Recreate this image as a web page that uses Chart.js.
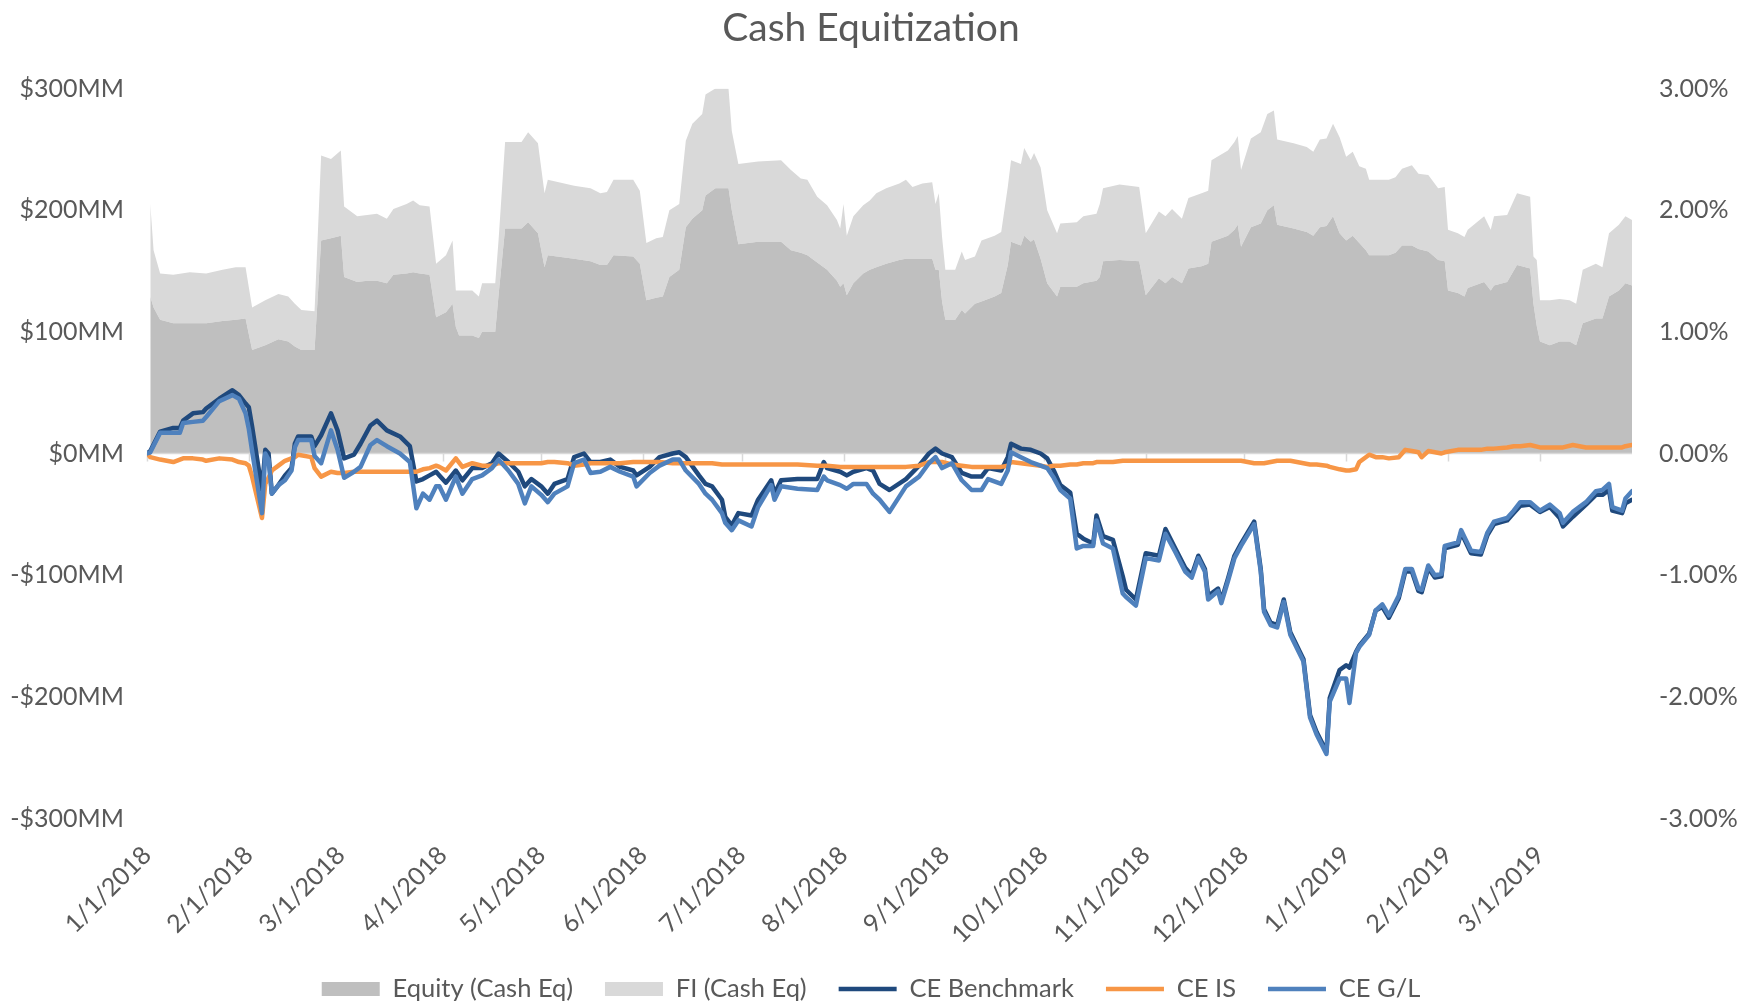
<!DOCTYPE html>
<html>
<head>
<meta charset="utf-8">
<title>Cash Equitization</title>
<script src="https://cdn.jsdelivr.net/npm/chart.js@4.4.1/dist/chart.umd.min.js"></script>
<style>
  html, body { margin: 0; padding: 0; background: #fff; }
</style>
</head>
<body>
<canvas id="cashChart" width="1742" height="1003"></canvas>
<script>
"use strict";

// days counted from 1/1/2018
const areaDays = [
  1, 2, 4, 8, 13, 18, 23, 27, 30, 32,
  36, 40, 43, 45, 47, 51, 53, 56, 59, 60,
  64, 67, 70, 73, 75, 79, 81, 83, 86, 88,
  91, 93, 94, 95, 99, 101, 102, 106, 107, 109,
  114, 116, 119, 121, 122, 130, 135, 138, 140, 142,
  148, 150, 152, 155, 157, 159, 162, 164, 166, 169,
  170, 173, 177, 178, 180, 186, 193, 196, 199, 201,
  204, 207, 210, 211, 212, 213, 215, 218, 220, 222,
  225, 229, 231, 233, 236, 239, 240, 241, 242, 243,
  246, 248, 249, 252, 254, 258, 260, 262, 263, 266,
  267, 269, 270, 272, 274, 277, 278, 283, 285, 289,
  290, 291, 296, 302, 304, 308, 310, 312, 315, 317,
  321, 323, 324, 329, 331, 332, 333, 336, 339, 341,
  343, 344, 349, 353, 355, 357, 359, 361, 363, 365,
  367, 369, 371, 372, 378, 380, 382, 385, 387, 390,
  393, 395, 396, 399, 401, 402, 407, 409, 410, 414,
  417, 421, 422, 423, 424, 427, 430, 433, 435, 437,
  441, 443, 445, 448, 450, 452
];

// $MM, stacked: equity at the bottom, FI on top of it
const equityMM = [
  129, 120, 110, 107, 107, 107, 109, 110, 111, 85,
  89, 94, 92, 88, 85, 85, 175, 177, 179, 145,
  141, 142, 142, 140, 147, 148, 149, 148, 147, 112,
  116, 123, 104, 97, 97, 95, 100, 100, 130, 185,
  185, 190, 181, 153, 163, 160, 158, 155, 155, 163,
  162, 156, 126, 128, 129, 145, 151, 186, 193, 200,
  212, 218, 218, 200, 172, 174, 174, 167, 165, 163,
  157, 151, 142, 137, 140, 130, 140, 148, 151, 153,
  156, 159, 160, 160, 160, 160, 151, 151, 125, 110,
  110, 118, 115, 123, 125, 129, 132, 155, 174, 171,
  179, 174, 176, 160, 140, 129, 137, 137, 140, 142,
  145, 158, 159, 158, 130, 144, 140, 145, 140, 152,
  154, 156, 174, 179, 184, 188, 170, 186, 189, 200,
  204, 188, 185, 182, 179, 186, 187, 195, 181, 175,
  179, 173, 167, 163, 163, 165, 171, 171, 168, 166,
  159, 158, 134, 132, 129, 136, 141, 134, 138, 141,
  155, 152, 123, 105, 92, 89, 92, 92, 89, 107,
  111, 111, 129, 134, 140, 138
];
const fiMM = [
  76, 47, 38, 40, 42, 41, 42, 43, 42, 35,
  37, 37, 37, 35, 33, 32, 70, 65, 70, 58,
  54, 54, 55, 53, 54, 57, 59, 56, 56, 44,
  47, 52, 30, 37, 37, 34, 40, 40, 45, 71,
  71, 74, 74, 61, 62, 60, 60, 59, 60, 62,
  63, 60, 47, 49, 49, 55, 54, 71, 78, 79,
  83, 82, 82, 65, 66, 66, 67, 66, 61, 62,
  54, 53, 50, 48, 65, 49, 55, 56, 57, 61,
  62, 63, 65, 59, 62, 63, 54, 63, 53, 41,
  41, 48, 44, 39, 50, 50, 50, 64, 67, 67,
  72, 67, 71, 75, 60, 52, 52, 53, 55, 55,
  60, 60, 62, 61, 51, 55, 55, 56, 53, 58,
  60, 60, 67, 70, 72, 73, 63, 73, 75, 79,
  78, 70, 70, 70, 69, 72, 72, 76, 79, 69,
  69, 63, 67, 62, 62, 62, 63, 66, 62, 63,
  59, 61, 50, 49, 49, 48, 54, 50, 57, 55,
  59, 59, 39, 54, 34, 37, 35, 34, 34, 44,
  45, 42, 52, 54, 55, 54
];

const lineDays = [
  0, 1, 4, 8, 10, 11, 14, 17, 18, 22,
  26, 28, 30, 31, 32, 35, 36, 37, 38, 40,
  42, 44, 45, 46, 50, 51, 53, 56, 58, 60,
  63, 65, 68, 70, 73, 77, 80, 82, 84, 86,
  88, 89, 91, 94, 96, 99, 102, 105, 107, 110,
  113, 115, 117, 120, 122, 124, 128, 130, 133, 135,
  138, 141, 144, 148, 149, 153, 156, 160, 162, 164,
  168, 170, 172, 175, 176, 178, 180, 184, 186, 190,
  191, 193, 198, 204, 206, 207, 211, 213, 215, 219,
  221, 223, 226, 231, 235, 238, 240, 242, 245, 248,
  251, 254, 256, 260, 262, 263, 266, 269, 272, 274,
  276, 278, 281, 283, 285, 288, 289, 291, 294, 297,
  298, 301, 304, 308, 310, 313, 316, 318, 320, 322,
  323, 326, 327, 329, 331, 333, 337, 339, 340, 342,
  344, 346, 348, 352, 354, 356, 359, 360, 363, 365,
  366, 368, 369, 372, 374, 376, 378, 381, 383, 385,
  387, 388, 390, 392, 394, 395, 399, 400, 403, 406,
  408, 410, 414, 416, 418, 421, 424, 427, 430, 431,
  434, 438, 441, 443, 445, 446, 449, 450, 452
];

// percent
const benchPct = [
  0, 0.02, 0.18, 0.21, 0.21, 0.27, 0.33, 0.34, 0.37, 0.45,
  0.52, 0.48, 0.41, 0.38, 0.22, -0.30, 0.03, 0.00, -0.33, -0.26,
  -0.18, -0.12, 0.08, 0.14, 0.14, 0.06, 0.15, 0.33, 0.19, -0.04,
  -0.01, 0.08, 0.23, 0.27, 0.19, 0.14, 0.06, -0.23, -0.21, -0.18,
  -0.15, -0.18, -0.24, -0.14, -0.22, -0.12, -0.12, -0.08, 0.00, -0.07,
  -0.15, -0.27, -0.21, -0.27, -0.33, -0.25, -0.21, -0.03, 0.00, -0.07,
  -0.07, -0.05, -0.11, -0.14, -0.18, -0.11, -0.03, 0.00, 0.01, -0.03,
  -0.18, -0.25, -0.27, -0.38, -0.52, -0.59, -0.49, -0.51, -0.38, -0.22,
  -0.33, -0.22, -0.21, -0.21, -0.07, -0.12, -0.15, -0.18, -0.15, -0.12,
  -0.14, -0.25, -0.30, -0.21, -0.10, 0.00, 0.04, 0.00, -0.03, -0.16,
  -0.19, -0.19, -0.12, -0.14, -0.03, 0.08, 0.04, 0.03, 0.00, -0.04,
  -0.14, -0.26, -0.32, -0.66, -0.70, -0.74, -0.51, -0.68, -0.71, -1.01,
  -1.12, -1.20, -0.82, -0.84, -0.62, -0.78, -0.94, -1.00, -0.84, -0.95,
  -1.17, -1.11, -1.21, -1.03, -0.84, -0.74, -0.56, -0.95, -1.28, -1.39,
  -1.41, -1.20, -1.47, -1.69, -2.15, -2.29, -2.45, -2.01, -1.78, -1.74,
  -1.76, -1.63, -1.58, -1.48, -1.29, -1.26, -1.35, -1.19, -0.97, -0.97,
  -1.13, -1.14, -0.94, -1.02, -1.01, -0.78, -0.75, -0.65, -0.82, -0.83,
  -0.67, -0.58, -0.55, -0.49, -0.43, -0.42, -0.48, -0.44, -0.53, -0.60,
  -0.52, -0.42, -0.34, -0.34, -0.30, -0.47, -0.49, -0.41, -0.38
];
const isPct = [
  0, -0.03, -0.05, -0.07, -0.05, -0.04, -0.04, -0.05, -0.06, -0.04,
  -0.05, -0.07, -0.08, -0.10, -0.19, -0.53, -0.25, -0.20, -0.14, -0.10,
  -0.06, -0.04, -0.03, -0.01, -0.03, -0.12, -0.19, -0.15, -0.16, -0.16,
  -0.15, -0.15, -0.15, -0.15, -0.15, -0.15, -0.15, -0.15, -0.13, -0.12,
  -0.10, -0.11, -0.14, -0.04, -0.11, -0.08, -0.10, -0.10, -0.08, -0.08,
  -0.08, -0.08, -0.08, -0.08, -0.07, -0.07, -0.08, -0.10, -0.09, -0.08,
  -0.08, -0.08, -0.08, -0.07, -0.07, -0.07, -0.07, -0.08, -0.08, -0.08,
  -0.08, -0.08, -0.08, -0.09, -0.09, -0.09, -0.09, -0.09, -0.09, -0.09,
  -0.09, -0.09, -0.09, -0.10, -0.10, -0.10, -0.11, -0.11, -0.11, -0.11,
  -0.11, -0.11, -0.11, -0.11, -0.10, -0.07, -0.07, -0.07, -0.09, -0.10,
  -0.11, -0.11, -0.11, -0.11, -0.10, -0.07, -0.08, -0.09, -0.10, -0.11,
  -0.10, -0.10, -0.09, -0.09, -0.08, -0.08, -0.07, -0.07, -0.07, -0.06,
  -0.06, -0.06, -0.06, -0.06, -0.06, -0.06, -0.06, -0.06, -0.06, -0.06,
  -0.06, -0.06, -0.06, -0.06, -0.06, -0.06, -0.08, -0.08, -0.08, -0.07,
  -0.06, -0.06, -0.06, -0.08, -0.09, -0.09, -0.10, -0.11, -0.13, -0.14,
  -0.14, -0.13, -0.07, -0.01, -0.03, -0.03, -0.04, -0.03, 0.03, 0.02,
  0.01, -0.03, 0.02, 0.01, 0.00, 0.01, 0.03, 0.03, 0.03, 0.03,
  0.04, 0.04, 0.05, 0.06, 0.06, 0.07, 0.05, 0.05, 0.05, 0.05,
  0.07, 0.05, 0.05, 0.05, 0.05, 0.05, 0.05, 0.06, 0.07
];
const glPct = [
  0, 0.01, 0.17, 0.17, 0.17, 0.25, 0.26, 0.27, 0.30, 0.43,
  0.48, 0.45, 0.33, 0.20, 0.02, -0.49, 0.00, -0.05, -0.33, -0.26,
  -0.22, -0.14, 0.05, 0.11, 0.11, -0.02, -0.08, 0.19, 0.03, -0.20,
  -0.15, -0.11, 0.07, 0.11, 0.06, 0.00, -0.07, -0.45, -0.33, -0.38,
  -0.27, -0.27, -0.38, -0.19, -0.33, -0.21, -0.18, -0.12, -0.05, -0.14,
  -0.25, -0.41, -0.27, -0.34, -0.40, -0.33, -0.27, -0.08, -0.05, -0.16,
  -0.15, -0.11, -0.15, -0.19, -0.27, -0.16, -0.10, -0.05, -0.05, -0.14,
  -0.25, -0.33, -0.38, -0.49, -0.57, -0.63, -0.55, -0.60, -0.44, -0.26,
  -0.38, -0.27, -0.29, -0.30, -0.19, -0.22, -0.26, -0.29, -0.25, -0.25,
  -0.33, -0.38, -0.48, -0.27, -0.19, -0.08, -0.03, -0.12, -0.08, -0.22,
  -0.30, -0.30, -0.21, -0.25, -0.14, 0.01, -0.03, -0.07, -0.10, -0.12,
  -0.20, -0.30, -0.37, -0.78, -0.76, -0.76, -0.55, -0.74, -0.78, -1.15,
  -1.18, -1.25, -0.86, -0.88, -0.66, -0.81, -0.97, -1.02, -0.86, -0.97,
  -1.20, -1.13, -1.23, -1.05, -0.86, -0.76, -0.58, -0.97, -1.30, -1.41,
  -1.43, -1.22, -1.49, -1.71, -2.17, -2.31, -2.47, -2.04, -1.85, -1.85,
  -2.05, -1.64, -1.59, -1.49, -1.29, -1.24, -1.33, -1.17, -0.95, -0.95,
  -1.11, -1.12, -0.92, -1.00, -0.99, -0.76, -0.73, -0.63, -0.80, -0.81,
  -0.65, -0.56, -0.53, -0.47, -0.40, -0.40, -0.47, -0.42, -0.49, -0.57,
  -0.48, -0.40, -0.31, -0.30, -0.25, -0.44, -0.47, -0.37, -0.31
];

const monthLabels = [
  "1/1/2018", "2/1/2018", "3/1/2018", "4/1/2018", "5/1/2018",
  "6/1/2018", "7/1/2018", "8/1/2018", "9/1/2018", "10/1/2018",
  "11/1/2018", "12/1/2018", "1/1/2019", "2/1/2019", "3/1/2019"
];

const textGray = "#595959";
const fontName = "Lato";
const axisFont = { size: 25 };

// month label -> day number on the x scale
const monthDays = monthLabels.map(function (s) {
  const p = s.split("/").map(Number);
  return (Date.UTC(p[2], p[0] - 1, p[1]) - Date.UTC(2018, 0, 1)) / 864e5;
});

function points(days, vals) {
  return days.map(function (d, i) { return { x: d, y: vals[i] }; });
}

// light axis line through zero with month tick marks, drawn over the areas
// (equity is the last area painted, it has the lower order of the two)
const zeroAxis = {
  id: "zeroAxis",
  afterDatasetDraw: function (chart, args) {
    if (args.index !== 0) return;
    const ctx = chart.ctx;
    const xs = chart.scales.x;
    const y0 = chart.scales.y.getPixelForValue(0);
    ctx.save();
    ctx.strokeStyle = "#d9d9d9";
    ctx.lineWidth = 1.5;
    ctx.beginPath();
    ctx.moveTo(xs.left, y0);
    ctx.lineTo(xs.right, y0);
    monthDays.forEach(function (d) {
      const px = Math.round(xs.getPixelForValue(d)) + 0.5;
      ctx.moveTo(px, y0);
      ctx.lineTo(px, y0 + 8);
    });
    ctx.stroke();
    ctx.restore();
  }
};

Chart.defaults.font.family = fontName;
Chart.defaults.color = textGray;

const ctx = document.getElementById("cashChart");
const cashChart = new Chart(ctx, {
  type: "line",
  data: {
    datasets: [
      {
        label: "Equity (Cash Eq)",
        data: points(areaDays, equityMM),
        yAxisID: "y",
        backgroundColor: "#bfbfbf",
        borderWidth: 0,
        fill: "origin",
        order: 3
      },
      {
        label: "FI (Cash Eq)",
        data: points(areaDays, fiMM),
        yAxisID: "y",
        backgroundColor: "#d9d9d9",
        borderWidth: 0,
        fill: "-1",
        order: 4
      },
      {
        label: "CE Benchmark",
        data: points(lineDays, benchPct),
        yAxisID: "y1",
        borderColor: "#1f497d",
        backgroundColor: "#1f497d",
        borderWidth: 4.5,
        fill: false,
        order: 2
      },
      {
        label: "CE IS",
        data: points(lineDays, isPct),
        yAxisID: "y1",
        borderColor: "#f79646",
        backgroundColor: "#f79646",
        borderWidth: 4.5,
        fill: false,
        order: 1
      },
      {
        label: "CE G/L",
        data: points(lineDays, glPct),
        yAxisID: "y1",
        borderColor: "#4f81bd",
        backgroundColor: "#4f81bd",
        borderWidth: 4.5,
        fill: false,
        order: 0
      }
    ]
  },
  options: {
    responsive: false,
    animation: false,
    events: [],
    elements: {
      point: { radius: 0 },
      line: { tension: 0, borderJoinStyle: "round", borderCapStyle: "round" }
    },
    layout: { padding: { left: 0, right: 0, top: 0, bottom: -8.75 } },
    scales: {
      x: {
        type: "linear",
        min: 0,
        max: 452,
        grid: { display: false, drawTicks: false },
        border: { display: false },
        afterBuildTicks: function (scale) {
          scale.ticks = monthDays.map(function (d) { return { value: d }; });
        },
        afterFit: function (scale) { scale.height = 125.75; },
        ticks: {
          autoSkip: false,
          maxRotation: 45,
          minRotation: 45,
          padding: 22,
          font: axisFont,
          color: textGray,
          callback: function (v, i) { return monthLabels[i]; }
        }
      },
      y: {
        position: "left",
        stacked: true,
        min: -300,
        max: 300,
        grid: { display: false, drawTicks: false },
        border: { display: false },
        afterFit: function (scale) { scale.width = 147; },
        ticks: {
          stepSize: 100,
          padding: 23,
          font: axisFont,
          color: textGray,
          callback: function (v) { return (v < 0 ? "-$" : "$") + Math.abs(v) + "MM"; }
        }
      },
      y1: {
        position: "right",
        min: -3,
        max: 3,
        grid: { display: false, drawTicks: false },
        border: { display: false },
        afterFit: function (scale) { scale.width = 110; },
        ticks: {
          stepSize: 1,
          padding: 27,
          font: axisFont,
          color: textGray,
          callback: function (v) { return v.toFixed(2) + "%"; }
        }
      }
    },
    plugins: {
      title: {
        display: true,
        text: "Cash Equitization",
        color: textGray,
        font: { size: 39, weight: "normal" },
        padding: { top: 5, bottom: 36.7 }
      },
      legend: {
        position: "bottom",
        labels: {
          usePointStyle: true,
          pointStyleWidth: 58,
          boxWidth: 58,
          boxHeight: 14,
          padding: 32,
          color: textGray,
          font: { size: 25.5 },
          generateLabels: function (chart) {
            return chart.data.datasets.map(function (ds, i) {
              const isLine = ds.fill === false;
              return {
                text: ds.label,
                datasetIndex: i,
                fillStyle: ds.backgroundColor,
                strokeStyle: isLine ? ds.borderColor : ds.backgroundColor,
                lineWidth: isLine ? 4.5 : 0,
                pointStyle: isLine ? "line" : "rect",
                fontColor: textGray,
                hidden: false
              };
            });
          }
        }
      },
      tooltip: { enabled: false }
    }
  },
  plugins: [zeroAxis]
});
</script>
</body>
</html>
